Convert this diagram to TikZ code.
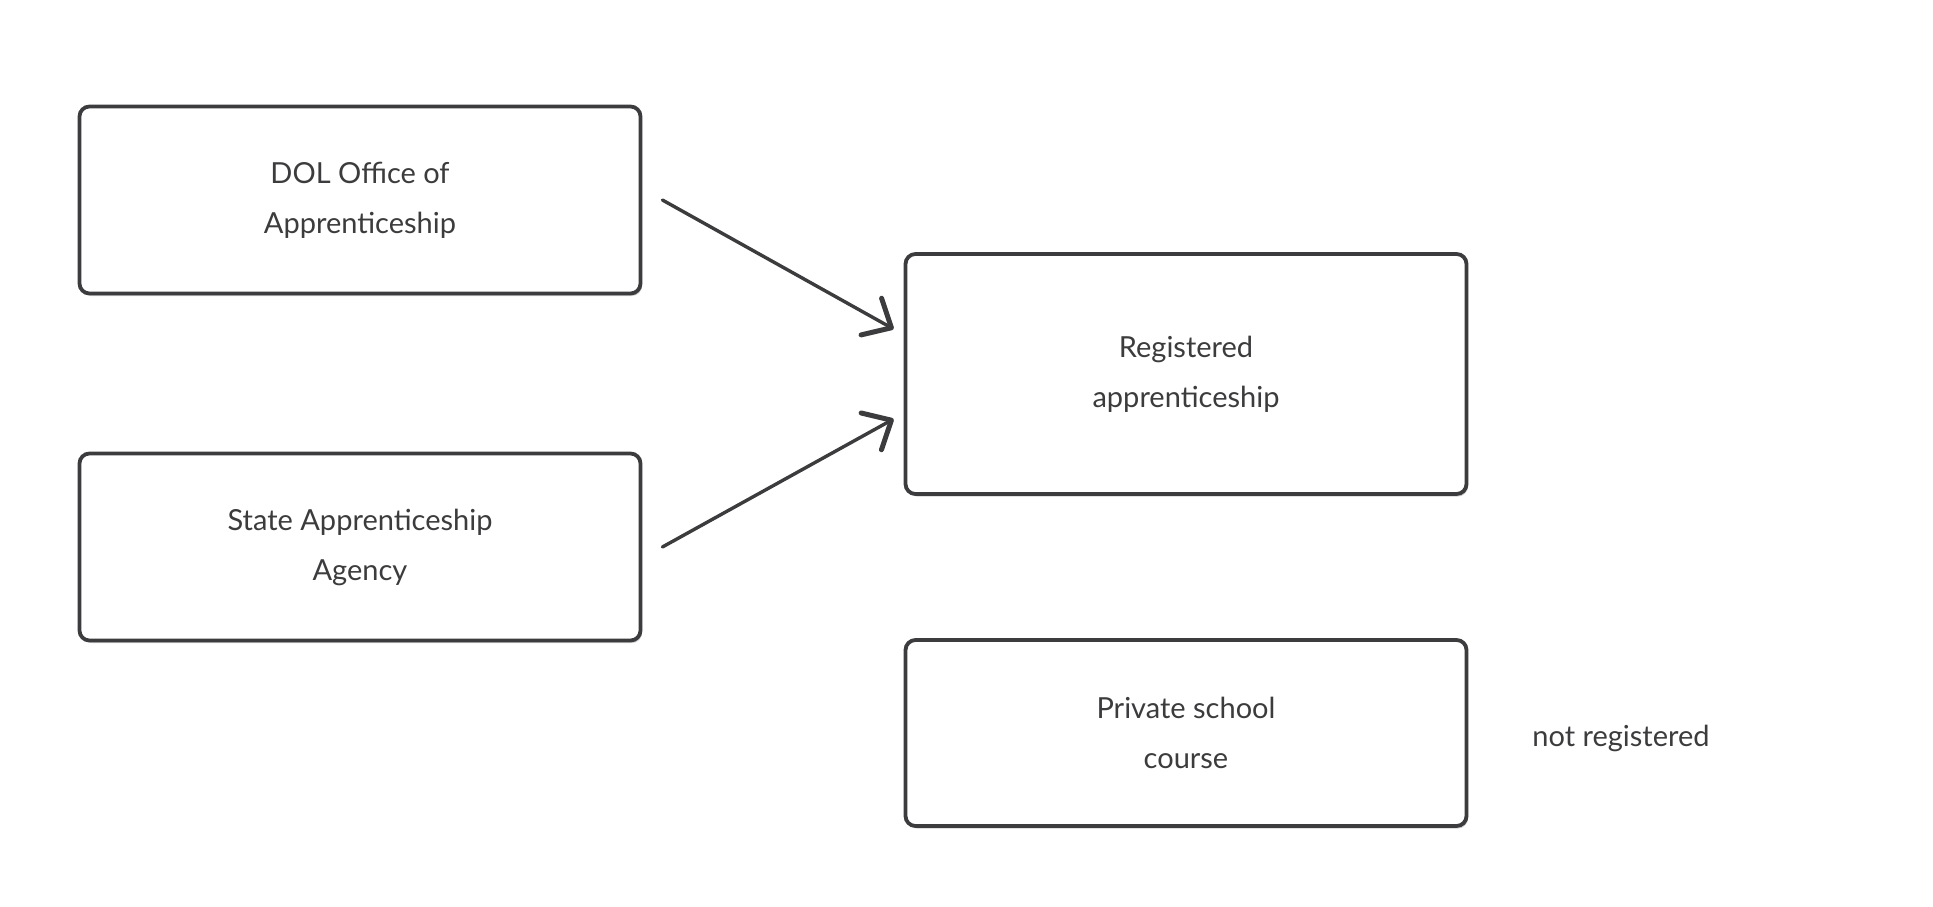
\documentclass[tikz,border=0pt]{standalone}
\usepackage{fontspec}
\setmainfont{Lato}
\usetikzlibrary{calc,shadows,arrows.meta}
\definecolor{ink}{HTML}{3C3C3E}
\tikzset{
  box/.style={draw=ink, line width=3.8pt, rounded corners=10pt, fill=white,
    minimum width=561pt, inner sep=0pt, align=center, text=ink,
    font=\fontsize{29}{50}\selectfont,
    drop shadow={shadow xshift=1.5pt, shadow yshift=-2.5pt, fill=black!18, opacity=1}},
  lbl/.style={text=ink, font=\fontsize{29}{50}\selectfont},
  conn/.style={draw=ink, line width=3.4pt, line cap=round,
    -{Straight Barb[length=23pt, width=42pt, line width=5pt, line cap=round, line join=round]}}
}
\begin{document}
\begin{tikzpicture}[x=1pt, y=-1pt]
\useasboundingbox (0,0) rectangle (1933,907);
\node[box, minimum height=187pt] (dol) at (360,200) {DOL Office of\\Apprenticeship};
\node[box, minimum height=187pt] (sa) at (360,547) {State Apprenticeship\\Agency};
\node[box, minimum height=240pt] (reg) at (1186,374) {Registered\\apprenticeship};
\node[box, minimum height=186pt] (priv) at (1186,733) {Private school\\course};
\node[lbl] (nr) at (1621,738) {not registered};
\coordinate (a1s) at ($(dol.east)+(20,0)$);
\coordinate (a1e) at ($(reg.west)+(-10,-45)$);
\coordinate (a2s) at ($(sa.east)+(20,0)$);
\coordinate (a2e) at ($(reg.west)+(-10,45)$);
\draw[conn] (a1s) -- (a1e);
\draw[conn] (a2s) -- (a2e);
\end{tikzpicture}
\end{document}
